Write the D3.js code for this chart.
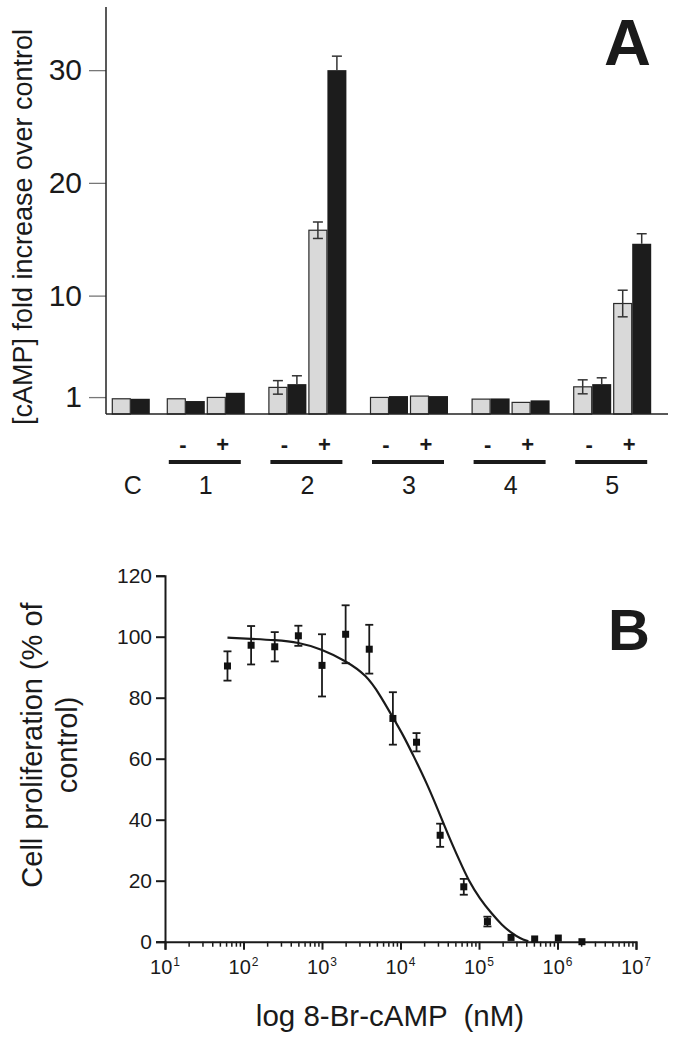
<!DOCTYPE html>
<html><head><meta charset="utf-8">
<script src="https://cdn.jsdelivr.net/npm/d3@7"></script>
<style>
html,body{margin:0;padding:0;background:#fff;}
svg{display:block;font-family:"Liberation Sans",Arial,Helvetica,sans-serif;}
</style></head><body>
<svg id="chart" width="676" height="1038"></svg>
<script>
// ---------- Panel A data ----------
const pairLabels  = ["C","1-","1+","2-","2+","3-","3+","4-","4+","5-","5+"];
const groupLabels = ["1","2","3","4","5"];
const signLabels  = ["-","+"];
const seriesKeys  = ["light","dark"];
const lightValues = [0.85,0.85,0.97,1.86,15.8,0.97,1.09,0.82,0.53,1.91,9.3];
const darkValues  = [0.85,0.65,1.38,2.15,30.0,1.09,1.09,0.88,0.71,2.15,14.6];
const lightErrors = [0,0,0,0.60,0.73,0,0,0,0,0.62,1.18];
const darkErrors  = [0,0,0,0.74,1.24,0,0,0,0,0.56,0.89];
const yTicksA     = [1,10,20,30];

// ---------- Panel B data ----------
const concentrations   = [62.5,125,250,500,1000,2000,4000,8000,16000,32000,64000,128000,256000,512000,1024000,2048000];
const proliferation    = [90.4,97.2,96.7,100.3,90.6,100.8,95.9,73.2,65.4,34.9,18.0,6.6,1.4,0.9,1.2,0];
const proliferationSEM = [4.8,6.3,4.8,3.3,10.2,9.5,8.0,8.6,3.0,3.8,2.6,1.6,0,0,0,0];
const fitConc   = [62.5,125,250,500,1000,2000,3700,5500,7800,10900,14600,21600,30300,40600,57300,73100,103000,145000,195000,261000,333000,425000];
const fitValues = [99.7,99.3,98.9,98.2,95.9,92.1,87.4,80.8,74.0,67.6,61.0,52.0,43.0,34.9,26.2,20.2,14.0,9.2,5.5,2.8,1.1,0.1];
const yTicksB   = [0,20,40,60,80,100,120];
const xMajorB   = [1e1,1e2,1e3,1e4,1e5,1e6,1e7];
const xExpB     = ["1","2","3","4","5","6","7"];

const svg = d3.select("#chart");
const ink = "#1a1a1a";

// ================= PANEL A =================
const A = {left:106, right:668, top:7, bottom:414};
const yA = d3.scaleLinear().domain([-0.5, 35.6]).range([A.bottom, A.top]);
const groupX = d3.scaleBand().domain(groupLabels).range([155, 663]);
const signX = d3.scaleBand().domain(signLabels).range([0, 78]).paddingInner(0.05);
const seriesX = d3.scaleBand().domain(seriesKeys).range([0, signX.bandwidth()]);
const groupCenter = g => groupX(g) + groupX.bandwidth()/2;
const cCenter = groupCenter("1") - 75;
function pairLeft(label){
  if(label === "C") return cCenter - signX.bandwidth()/2;
  return groupCenter(label[0]) - 39 + signX(label[1]);
}
const gA = svg.append("g");

// bars
const barData = [];
pairLabels.forEach((p,i)=>{
  barData.push({p, s:"light", v:lightValues[i], e:lightErrors[i]});
  barData.push({p, s:"dark",  v:darkValues[i],  e:darkErrors[i]});
});
gA.selectAll("rect.bar").data(barData).join("rect")
  .attr("class","bar")
  .attr("x", d=>pairLeft(d.p)+seriesX(d.s) + (d.s==="light"?0.5:0))
  .attr("y", d=>yA(d.v))
  .attr("width", d=>seriesX.bandwidth() - (d.s==="light"?1:0))
  .attr("height", d=>A.bottom - yA(d.v))
  .attr("fill", d=>d.s==="light" ? "#d9d9d9" : "#1c1c1c")
  .attr("stroke", d=>d.s==="light" ? "#2a2a2a" : "none")
  .attr("stroke-width", 1.2);

// error bars
const errA = barData.filter(d=>d.e>0);
errA.forEach(d=>{
  const cx = pairLeft(d.p)+seriesX(d.s)+seriesX.bandwidth()/2;
  const lo = d.s==="light" ? d.v - d.e : d.v;
  const hi = d.v + d.e;
  const g = gA.append("g").attr("stroke","#333").attr("stroke-width",1.5);
  g.append("line").attr("x1",cx).attr("x2",cx).attr("y1",yA(lo)).attr("y2",yA(hi));
  g.append("line").attr("x1",cx-5).attr("x2",cx+5).attr("y1",yA(hi)).attr("y2",yA(hi));
  if(d.s==="light") g.append("line").attr("x1",cx-5).attr("x2",cx+5).attr("y1",yA(lo)).attr("y2",yA(lo));
});

// y axis A
const axA = gA.append("g").attr("transform",`translate(${A.left},0)`)
  .call(d3.axisLeft(yA).tickValues(yTicksA).tickSize(17).tickPadding(7).tickFormat(d3.format("d")));
axA.select(".domain").remove();
axA.selectAll(".tick line").attr("stroke","#777").attr("stroke-width",1.3);
axA.selectAll(".tick text").attr("font-size",30).attr("fill",ink).attr("font-family",null);
gA.append("line").attr("x1",A.left).attr("x2",A.left).attr("y1",A.top).attr("y2",A.bottom)
  .attr("stroke","#222").attr("stroke-width",1.5);
gA.append("line").attr("x1",A.left).attr("x2",A.right).attr("y1",A.bottom).attr("y2",A.bottom)
  .attr("stroke","#222").attr("stroke-width",1.5);

// y label A
gA.append("text").attr("transform",`translate(32,227) rotate(-90)`)
  .attr("text-anchor","middle").attr("font-size",27).attr("fill",ink)
  .text("[cAMP] fold increase over control");

// sign labels, lines, group numbers
groupLabels.forEach(g=>{
  signLabels.forEach(s=>{
    gA.append("text").attr("x", groupCenter(g) - 39 + signX(s) + signX.bandwidth()/2 - 3)
      .attr("y",452).attr("text-anchor","middle").attr("font-size",22).attr("font-weight","bold")
      .attr("fill",ink).text(s);
  });
  gA.append("line").attr("x1",groupCenter(g)-37).attr("x2",groupCenter(g)+35)
    .attr("y1",462).attr("y2",462).attr("stroke",ink).attr("stroke-width",4.2);
  gA.append("text").attr("x",groupCenter(g)).attr("y",494).attr("text-anchor","middle")
    .attr("font-size",25).attr("fill",ink).text(g);
});
gA.append("text").attr("x",cCenter+2).attr("y",494).attr("text-anchor","middle")
  .attr("font-size",25).attr("fill",ink).text("C");

gA.append("text").attr("x",604).attr("y",65).attr("font-size",65).attr("font-weight","bold")
  .attr("fill",ink).text("A");

// ================= PANEL B =================
const B = {left:165, right:636, top:575.7, bottom:941.7};
const xB = d3.scaleLog().domain([10,1e7]).range([B.left,B.right]);
const yB = d3.scaleLinear().domain([0,120]).range([B.bottom,B.top]);
const gB = svg.append("g");

// y axis
const axBy = gB.append("g").attr("transform",`translate(${B.left},0)`)
  .call(d3.axisLeft(yB).tickValues(yTicksB).tickSize(9).tickPadding(4));
axBy.select(".domain").attr("stroke",ink).attr("stroke-width",2);
axBy.selectAll(".tick line").attr("stroke",ink).attr("stroke-width",2);
axBy.selectAll(".tick text").attr("font-size",21).attr("fill",ink).attr("font-family",null);

// x axis: minor + major ticks
const minorTicks = [];
for(let e=1;e<7;e++) for(let m=2;m<=9;m++) minorTicks.push(m*Math.pow(10,e));
const axBxMinor = gB.append("g").attr("transform",`translate(0,${B.bottom})`)
  .call(d3.axisBottom(xB).tickValues(minorTicks).tickSize(5).tickFormat(""));
axBxMinor.selectAll(".tick line").attr("stroke",ink).attr("stroke-width",1.5);
axBxMinor.select(".domain").remove();
const axBx = gB.append("g").attr("transform",`translate(0,${B.bottom})`)
  .call(d3.axisBottom(xB).tickValues(xMajorB).tickSize(8).tickFormat(""));
axBx.select(".domain").attr("stroke",ink).attr("stroke-width",2);
axBx.selectAll(".tick line").attr("stroke",ink).attr("stroke-width",2);
xMajorB.forEach((t,i)=>{
  const tx = gB.append("text").attr("x",xB(t)).attr("y",973.5).attr("text-anchor","middle")
    .attr("fill",ink).attr("font-size",20);
  tx.append("tspan").text("10");
  tx.append("tspan").attr("font-size",12).attr("dx",1).attr("dy",-7.5).text(xExpB[i]);
});

// fitted curve
const fitData = fitConc.map((c,i)=>[c,fitValues[i]]);
gB.append("path").datum(fitData)
  .attr("d", d3.line().x(d=>xB(d[0])).y(d=>yB(d[1])).curve(d3.curveBasis))
  .attr("fill","none").attr("stroke",ink).attr("stroke-width",2.2);

// error bars + markers
const pts = concentrations.map((c,i)=>({c, v:proliferation[i], e:proliferationSEM[i]}));
pts.filter(d=>d.e>0).forEach(d=>{
  const cx = xB(d.c);
  const g = gB.append("g").attr("stroke",ink).attr("stroke-width",1.8);
  g.append("line").attr("x1",cx).attr("x2",cx).attr("y1",yB(d.v-d.e)).attr("y2",yB(d.v+d.e));
  g.append("line").attr("x1",cx-4).attr("x2",cx+4).attr("y1",yB(d.v-d.e)).attr("y2",yB(d.v-d.e));
  g.append("line").attr("x1",cx-4).attr("x2",cx+4).attr("y1",yB(d.v+d.e)).attr("y2",yB(d.v+d.e));
});
gB.selectAll("rect.pt").data(pts).join("rect").attr("class","pt")
  .attr("x",d=>xB(d.c)-3.5).attr("y",d=>yB(d.v)-3.5)
  .attr("width",7).attr("height",7).attr("fill","#111");

// labels
gB.append("text").attr("x",390).attr("y",1026).attr("text-anchor","middle")
  .attr("font-size",29.5).attr("fill",ink).style("white-space","pre")
  .text("log 8-Br-cAMP  (nM)");
gB.append("text").attr("transform","translate(42,745) rotate(-90)").attr("text-anchor","middle")
  .attr("font-size",29).attr("fill",ink).text("Cell proliferation (% of");
gB.append("text").attr("transform","translate(77,745) rotate(-90)").attr("text-anchor","middle")
  .attr("font-size",29).attr("fill",ink).text("control)");
gB.append("text").attr("x",608).attr("y",650).attr("font-size",58).attr("font-weight","bold")
  .attr("fill",ink).text("B");
</script>
</body></html>
